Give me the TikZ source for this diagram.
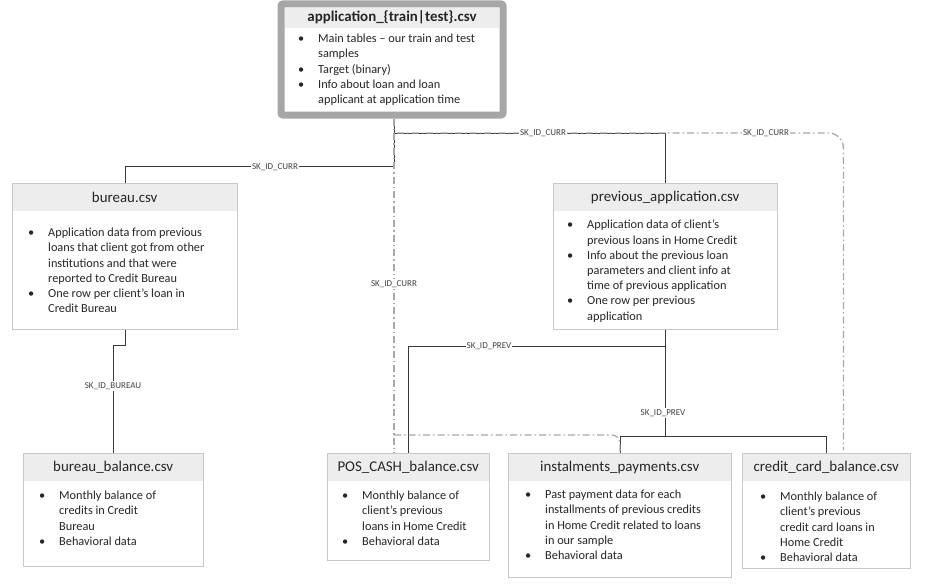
\documentclass[tikz,border=0pt]{standalone}
\usepackage{fontspec}
\setmainfont{Carlito}
\usetikzlibrary{calc}
\definecolor{boxc}{HTML}{C8C8C8}
\definecolor{hdrc}{HTML}{EDEDED}
\definecolor{txtc}{HTML}{262626}
\definecolor{lblc}{HTML}{404040}
\definecolor{conc}{HTML}{3A3A3A}
\definecolor{ddc}{HTML}{A8A8A8}
\definecolor{appc}{HTML}{A6A6A6}
\newcommand\ttlfont{\fontsize{14.9}{17}\selectfont}
\newcommand\bodyfont{\fontsize{12.3}{15.2}\selectfont}
\newcommand\lblfont{\fontsize{9}{10}\selectfont}
\newcommand\bi{\makebox[20pt][l]{\textbullet}}
\newcommand\ci{\hspace*{20pt}}
\tikzset{
  box/.style={draw=boxc, line width=0.8pt, inner sep=0pt, anchor=north west},
  hdr/.style={fill=hdrc, inner sep=0pt, anchor=north west, minimum height=28pt},
  ttl/.style={font=\ttlfont, text=txtc, inner sep=0pt},
  body/.style={font=\bodyfont, text=txtc, align=left, anchor=north west, inner sep=0pt},
  lbl/.style={font=\lblfont, text=lblc, fill=white, inner sep=1pt},
  con/.style={draw=conc, line width=0.8pt},
  dd/.style={draw=ddc, line width=1.3pt, dash pattern=on 7pt off 3pt on 1.5pt off 3pt},
  appbox/.style={draw=appc, line width=7pt, rounded corners=2pt, inner sep=0pt,
    minimum width=222pt, minimum height=111pt},
}
\newcommand\tablebox[6]{%
  \node[hdr, minimum width=#4pt] (#1-h) at (#2,#3) {};
  \node[box, minimum width=#4pt, minimum height=#5pt] (#1) at (#2,#3) {};
  \node[ttl] at (#1-h) {#6};}
\begin{document}
\begin{tikzpicture}[x=1pt,y=-1pt]
\useasboundingbox[fill=white] (0,0) rectangle (925,586);

% main application table
\fill[hdrc] (285,8) rectangle (499,28);
\node[appbox] (app) at (392,59.5) {};
\node[ttl, font=\ttlfont\bfseries] at (392,17.5) {application\_\{train|test\}.csv};
\node[body] at (298,34) {\bi Main tables – our train and test\\ \ci samples\\ \bi Target (binary)\\ \bi Info about loan and loan\\ \ci applicant at application time};
\coordinate (appb) at ([xshift=2pt]app.south);

% tables
\tablebox{bur}{12}{183}{225}{146}{bureau.csv}
\node[body] at (28,228) {\bi Application data from previous\\ \ci loans that client got from other\\ \ci institutions and that were\\ \ci reported to Credit Bureau\\ \bi One row per client’s loan in\\ \ci Credit Bureau};

\tablebox{prev}{553}{183}{224}{146}{previous\_application.csv}
\node[body] at (567,220) {\bi Application data of client’s\\ \ci previous loans in Home Credit\\ \bi Info about the previous loan\\ \ci parameters and client info at\\ \ci time of previous application\\ \bi One row per previous\\ \ci application};

\tablebox{bb}{23}{453}{180}{113}{bureau\_balance.csv}
\node[body] at (39,491) {\bi Monthly balance of\\ \ci credits in Credit\\ \ci Bureau\\ \bi Behavioral data};

\tablebox{pos}{327}{453}{162}{107}{POS\_CASH\_balance.csv}
\node[body] at (342,491) {\bi Monthly balance of\\ \ci client’s previous\\ \ci loans in Home Credit\\ \bi Behavioral data};

\tablebox{inst}{508}{453}{223}{124}{instalments\_payments.csv}
\node[body] at (525,490) {\bi Past payment data for each\\ \ci installments of previous credits\\ \ci in Home Credit related to loans\\ \ci in our sample\\ \bi Behavioral data};

\tablebox{cc}{742}{453}{168}{115}{credit\_card\_balance.csv}
\node[body] at (760,492) {\bi Monthly balance of\\ \ci client’s previous\\ \ci credit card loans in\\ \ci Home Credit\\ \bi Behavioral data};

% solid connectors
\draw[con] (appb) -- ++(0,48) -| (bur.north);
\draw[con] (appb) ++(0,14.5) -| (prev.north);
\draw[con] (bur.south) -- ++(0,16) -| (bb.north);
\draw[con] (prev.south) -- ++(0,17) -| (pos.north);
\draw[con] (prev.south) -- ++(0,107) coordinate (j);
\draw[con] (inst.north) |- (j) -| (cc.north);

% dash-dot connectors
\draw[dd] (appb) -- (appb |- pos.north);
\draw[dd, rounded corners=15pt] ([xshift=3pt]appb) ++(0,14.5) -| ([xshift=17pt, yshift=3pt]cc.north);
\draw[dd, rounded corners=8pt] (appb) ++(0,316.5) -| (inst.north);

% labels
\node[lbl] at (275,167) {SK\_ID\_CURR};
\node[lbl] at (543,133) {SK\_ID\_CURR};
\node[lbl] at (766,133) {SK\_ID\_CURR};
\node[lbl] at (394,284) {SK\_ID\_CURR};
\node[lbl] at (113,386) {SK\_ID\_BUREAU};
\node[lbl] at (489,346) {SK\_ID\_PREV};
\node[lbl] at (663,413) {SK\_ID\_PREV};
\end{tikzpicture}
\end{document}
